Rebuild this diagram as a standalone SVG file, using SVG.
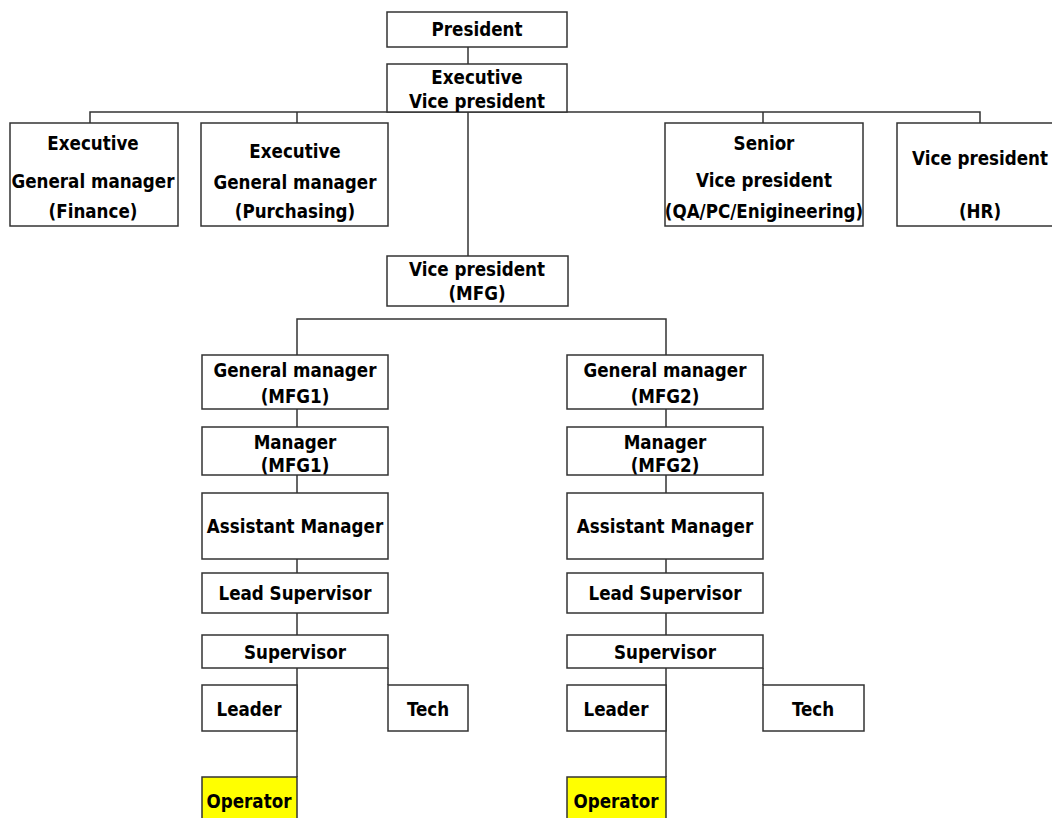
<svg xmlns="http://www.w3.org/2000/svg" width="1052" height="818" viewBox="0 0 1052 818">
<style>
.b{fill:#fff;stroke:#333;stroke-width:1.5}
.op{fill:#ffff00;stroke:#333;stroke-width:1.5}
.c{fill:none;stroke:#333;stroke-width:1.5}
text{font-family:"DejaVu Sans Condensed","DejaVu Sans",sans-serif;font-weight:bold;font-size:18.6px;fill:#000;text-anchor:middle;dominant-baseline:central}
</style>
<rect width="1052" height="818" fill="#fff"/>
<g id="connectors">
<path class="c" d="M468 47V64"/>
<path class="c" d="M90 123V112H980V123"/>
<path class="c" d="M297 112V123"/>
<path class="c" d="M763 112V123"/>
<path class="c" d="M468 112V256"/>
<path class="c" d="M297 355V319H666V355"/>
<path class="c" d="M297 409V427M297 475V493M297 559V573M297 613V635"/>
<path class="c" d="M666 409V427M666 475V493M666 559V573M666 613V635"/>
<path class="c" d="M297 668V777M388 668V685"/>
<path class="c" d="M666 668V777M763 668V685"/>
</g>
<g id="president"><rect class="b" x="387" y="12" width="180" height="35"/><text x="477" y="29">President</text></g>
<g id="evp"><rect class="b" x="387" y="64" width="180" height="48"/><text x="477" y="77">Executive</text><text x="477" y="101">Vice president</text></g>
<g id="egm-finance"><rect class="b" x="10" y="123" width="168" height="103"/><text x="93" y="143">Executive</text><text x="93" y="181">General manager</text><text x="93" y="211">(Finance)</text></g>
<g id="egm-purchasing"><rect class="b" x="201" y="123" width="187" height="103"/><text x="295" y="151">Executive</text><text x="295" y="182">General manager</text><text x="295" y="211">(Purchasing)</text></g>
<g id="svp"><rect class="b" x="665" y="123" width="198" height="103"/><text x="764" y="143">Senior</text><text x="764" y="180">Vice president</text><text x="764" y="211">(QA/PC/Enigineering)</text></g>
<g id="vp-hr"><rect class="b" x="897" y="123" width="166" height="103"/><text x="980" y="158">Vice president</text><text x="980" y="211">(HR)</text></g>
<g id="vp-mfg"><rect class="b" x="387" y="256" width="181" height="50"/><text x="477" y="269">Vice president</text><text x="477" y="293">(MFG)</text></g>
<g id="gm-mfg1"><rect class="b" x="202" y="355" width="186" height="54"/><text x="295" y="370">General manager</text><text x="295" y="396">(MFG1)</text></g>
<g id="gm-mfg2"><rect class="b" x="567" y="355" width="196" height="54"/><text x="665" y="370">General manager</text><text x="665" y="396">(MFG2)</text></g>
<g id="mgr-mfg1"><rect class="b" x="202" y="427" width="186" height="48"/><text x="295" y="442">Manager</text><text x="295" y="465">(MFG1)</text></g>
<g id="mgr-mfg2"><rect class="b" x="567" y="427" width="196" height="48"/><text x="665" y="442">Manager</text><text x="665" y="465">(MFG2)</text></g>
<g id="am1"><rect class="b" x="202" y="493" width="186" height="66"/><text x="295" y="526">Assistant Manager</text></g>
<g id="am2"><rect class="b" x="567" y="493" width="196" height="66"/><text x="665" y="526">Assistant Manager</text></g>
<g id="ls1"><rect class="b" x="202" y="573" width="186" height="40"/><text x="295" y="593">Lead Supervisor</text></g>
<g id="ls2"><rect class="b" x="567" y="573" width="196" height="40"/><text x="665" y="593">Lead Supervisor</text></g>
<g id="sup1"><rect class="b" x="202" y="635" width="186" height="33"/><text x="295" y="652">Supervisor</text></g>
<g id="sup2"><rect class="b" x="567" y="635" width="196" height="33"/><text x="665" y="652">Supervisor</text></g>
<g id="leader1"><rect class="b" x="202" y="685" width="95" height="46"/><text x="249" y="709">Leader</text></g>
<g id="tech1"><rect class="b" x="388" y="685" width="80" height="46"/><text x="428" y="709">Tech</text></g>
<g id="leader2"><rect class="b" x="567" y="685" width="99" height="46"/><text x="616" y="709">Leader</text></g>
<g id="tech2"><rect class="b" x="763" y="685" width="101" height="46"/><text x="813" y="709">Tech</text></g>
<g id="op1"><rect class="op" x="202" y="777" width="95" height="50"/><text x="249" y="801">Operator</text></g>
<g id="op2"><rect class="op" x="567" y="777" width="99" height="50"/><text x="616" y="801">Operator</text></g>
</svg>
